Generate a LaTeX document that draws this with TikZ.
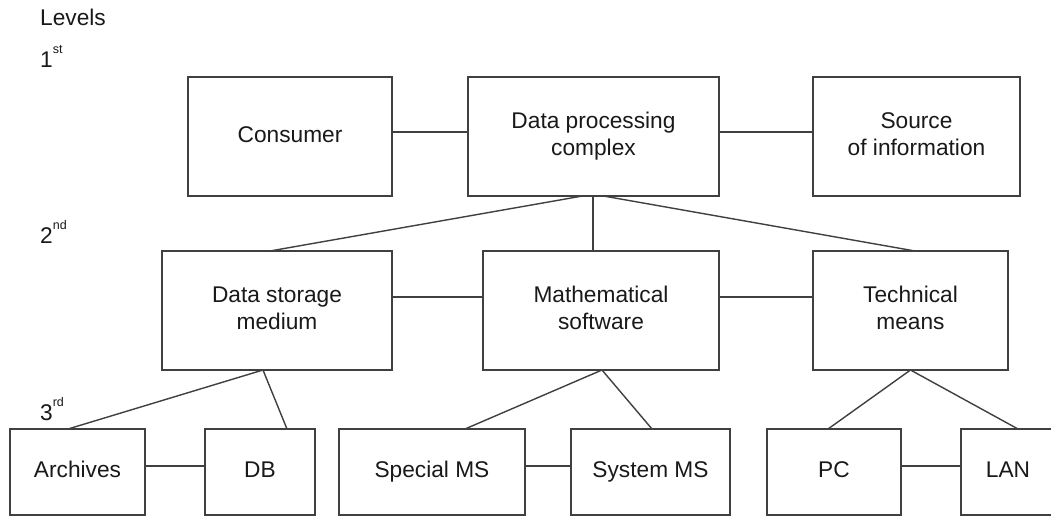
\documentclass[tikz,border=0pt]{standalone}
\usepackage{fontspec}
\setmainfont{Liberation Sans}
\newcommand{\supx}[1]{\raisebox{0.6em}{\fontsize{12.5}{12.5}\selectfont #1}}
\newcommand{\onel}[1]{\strut #1}
\newcommand{\twol}[2]{\begin{tabular}{@{}c@{}}#1\\#2\end{tabular}}
\begin{document}
\begin{tikzpicture}[x=1pt,y=-1pt,
  box/.style={draw=black!75, line width=1.4pt, inner sep=0pt, outer sep=0pt,
    align=center, font=\fontsize{22.7}{27.5}\selectfont, text=black!90},
  link/.style={draw=black!75, line width=1.4pt},
  lvl/.style={anchor=base west, inner sep=0pt, font=\fontsize{22.7}{27.5}\selectfont, text=black!90}]
\useasboundingbox[fill=white] (0,0) rectangle (1051,517);
% level labels
\node[lvl] (levels) at (40,25) {Levels};
\node[lvl] (l1) at (40,67) {1\supx{st}};
\node[lvl] (l2) at (40,243) {2\supx{nd}};
\node[lvl] (l3) at (40,420) {3\supx{rd}};
% row 1
\node[box, minimum width=204, minimum height=119] (cons) at (290,136.5) {\raisebox{3pt}{\onel{Consumer}}};
\node[box, minimum width=251, minimum height=119] (dpc) at (593.5,136.5) {\raisebox{4pt}{\twol{Data processing}{complex}}};
\node[box, minimum width=207, minimum height=119] (src) at (916.5,136.5) {\raisebox{3.5pt}{\twol{Source}{of information}}};
% row 2
\node[box, minimum width=230, minimum height=119] (dsm) at (277,310.5) {\twol{Data storage}{medium}};
\node[box, minimum width=236, minimum height=119] (ms) at (601,310.5) {\twol{Mathematical}{software}};
\node[box, minimum width=195, minimum height=119] (tm) at (910.5,310.5) {\twol{Technical}{means}};
% row 3
\node[box, minimum width=135, minimum height=86] (arch) at (77.5,472) {\onel{Archives}};
\node[box, minimum width=110, minimum height=86] (db) at (260,472) {\onel{DB}};
\node[box, minimum width=186, minimum height=86] (sms) at (432,472) {\onel{Special MS}};
\node[box, minimum width=159, minimum height=86] (sysms) at (650.5,472) {\onel{System MS}};
\node[box, minimum width=134, minimum height=86] (pc) at (834,472) {\onel{PC}};
\node[box, minimum width=94, minimum height=86] (lan) at (1008,472) {\onel{LAN}};
% horizontal links
\draw[link] ([yshift=4.5]cons.east) -- ([yshift=4.5]dpc.west);
\draw[link] ([yshift=4.5]dpc.east) -- ([yshift=4.5]src.west);
\draw[link] ([yshift=13.5]dsm.east) -- ([yshift=13.5]ms.west);
\draw[link] ([yshift=13.5]ms.east) -- ([yshift=13.5]tm.west);
\draw[link] ([yshift=6]arch.east) -- ([yshift=6]db.west);
\draw[link] ([yshift=6]sms.east) -- ([yshift=6]sysms.west);
\draw[link] ([yshift=6]pc.east) -- ([yshift=6]lan.west);
% tree links
\draw[link] ([xshift=-11]dpc.south) -- ([xshift=-7]dsm.north);
\draw[link] ([xshift=-0.5]dpc.south) -- ([xshift=-8]ms.north);
\draw[link] ([xshift=10]dpc.south) -- ([xshift=4.5]tm.north);
\draw[link] ([xshift=-14]dsm.south) -- ([xshift=-9.5]arch.north);
\draw[link] ([xshift=-14]dsm.south) -- ([xshift=27]db.north);
\draw[link] ([xshift=1]ms.south) -- ([xshift=33]sms.north);
\draw[link] ([xshift=1]ms.south) -- ([xshift=1.5]sysms.north);
\draw[link] (tm.south) -- ([xshift=-6]pc.north);
\draw[link] (tm.south) -- ([xshift=10]lan.north);
\end{tikzpicture}
\end{document}
